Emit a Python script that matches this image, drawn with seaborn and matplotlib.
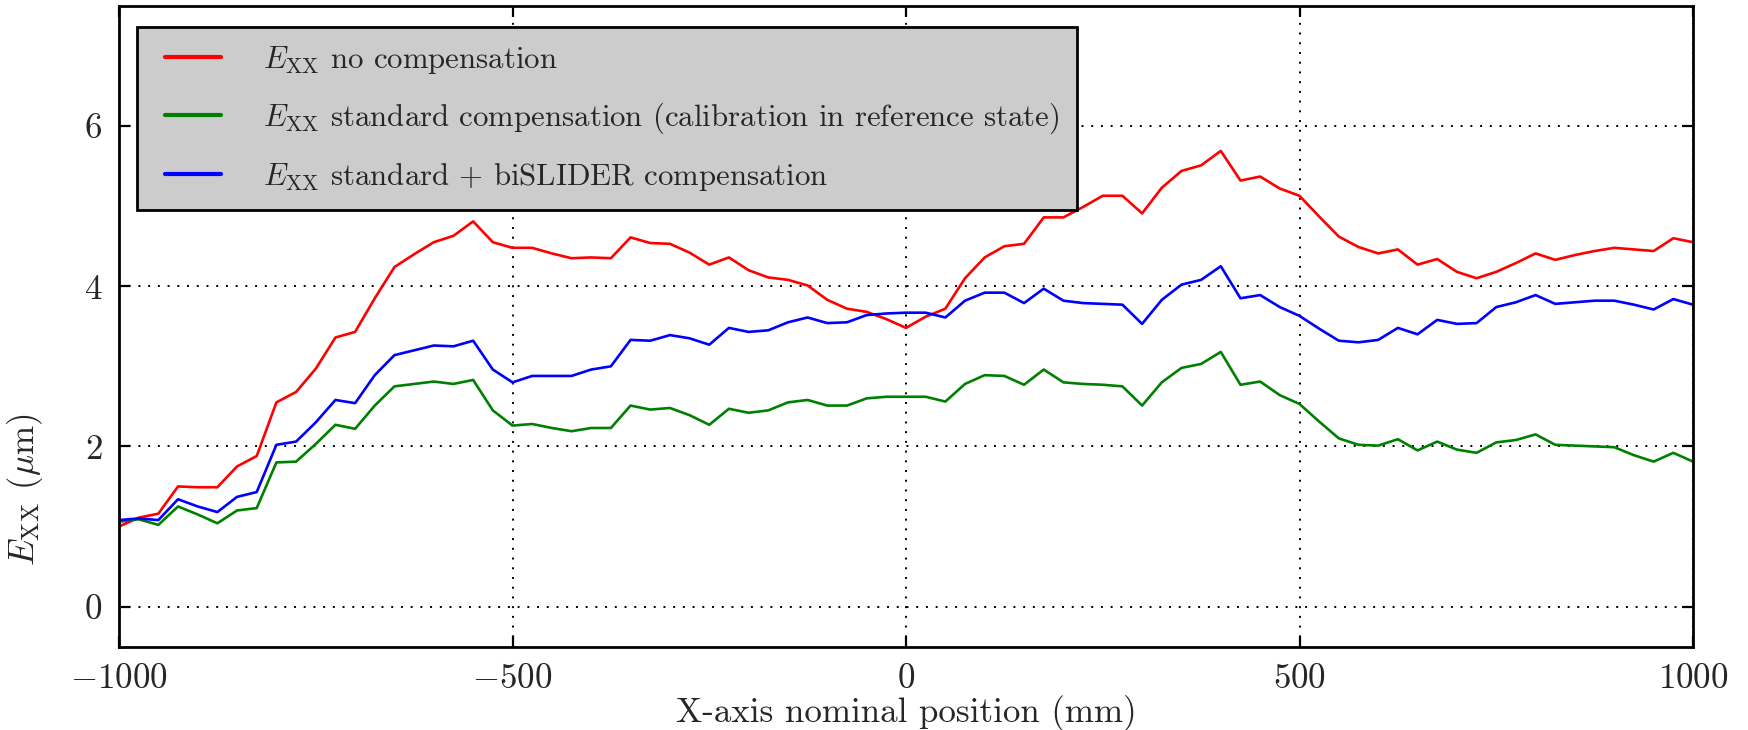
import numpy as np
import pandas as pd
import matplotlib
matplotlib.use("Agg")
import matplotlib.pyplot as plt
import seaborn as sns
from matplotlib.legend_handler import HandlerLine2D
from matplotlib.lines import Line2D

# ---- data ----
x_pos = np.arange(-1000, 1001, 25)

no_comp = [1.00, 1.11, 1.16, 1.50, 1.49, 1.49, 1.75, 1.88, 2.55, 2.68, 2.97, 3.36, 3.43, 3.85, 4.24, 4.40, 4.55, 4.63, 4.81, 4.55,
           4.48, 4.48, 4.41, 4.35, 4.36, 4.35, 4.61, 4.54, 4.53, 4.42, 4.27, 4.36, 4.20, 4.11, 4.08, 4.01, 3.83, 3.72, 3.68, 3.59,
           3.48, 3.62, 3.72, 4.10, 4.36, 4.50, 4.53, 4.86, 4.86, 4.99, 5.13, 5.13, 4.91, 5.23, 5.44, 5.51, 5.69, 5.32, 5.37, 5.22,
           5.13, 4.87, 4.62, 4.49, 4.41, 4.46, 4.27, 4.34, 4.18, 4.10, 4.18, 4.29, 4.41, 4.33, 4.39, 4.44, 4.48, 4.46, 4.44, 4.60, 4.55]

std_comp = [1.06, 1.09, 1.02, 1.25, 1.15, 1.04, 1.20, 1.23, 1.80, 1.81, 2.03, 2.27, 2.22, 2.51, 2.75, 2.78, 2.81, 2.78, 2.83, 2.45,
            2.26, 2.28, 2.23, 2.19, 2.23, 2.23, 2.51, 2.46, 2.48, 2.39, 2.27, 2.47, 2.42, 2.45, 2.55, 2.58, 2.51, 2.51, 2.60, 2.62,
            2.62, 2.62, 2.56, 2.78, 2.89, 2.88, 2.77, 2.96, 2.80, 2.78, 2.77, 2.75, 2.51, 2.80, 2.98, 3.03, 3.18, 2.77, 2.81, 2.64,
            2.53, 2.31, 2.10, 2.02, 2.01, 2.09, 1.95, 2.06, 1.96, 1.92, 2.05, 2.08, 2.15, 2.02, 2.01, 2.00, 1.99, 1.89, 1.81, 1.92, 1.81]

bislider_comp = [1.08, 1.10, 1.08, 1.34, 1.25, 1.18, 1.37, 1.43, 2.02, 2.06, 2.30, 2.58, 2.54, 2.89, 3.14, 3.20, 3.26, 3.25, 3.32, 2.96,
                 2.80, 2.88, 2.88, 2.88, 2.96, 3.00, 3.33, 3.32, 3.39, 3.35, 3.27, 3.48, 3.43, 3.45, 3.55, 3.61, 3.54, 3.55, 3.64, 3.66,
                 3.67, 3.67, 3.61, 3.82, 3.92, 3.92, 3.79, 3.97, 3.82, 3.79, 3.78, 3.77, 3.53, 3.83, 4.02, 4.08, 4.25, 3.85, 3.89, 3.74,
                 3.63, 3.47, 3.32, 3.30, 3.33, 3.48, 3.40, 3.58, 3.53, 3.54, 3.74, 3.80, 3.89, 3.78, 3.80, 3.82, 3.82, 3.77, 3.71, 3.84, 3.77]

labels = [r"$E_{\mathrm{XX}}$ no compensation",
          r"$E_{\mathrm{XX}}$ standard compensation (calibration in reference state)",
          r"$E_{\mathrm{XX}}$ standard + biSLIDER compensation"]
colors = ["#ff0000", "#008000", "#0000ff"]

x_ticks = [-1000, -500, 0, 500, 1000]
y_ticks = [0, 2, 4, 6]

# ---- style ----
sns.set_style("white")
plt.rcParams.update({
    "font.family": ["cmr10", "DejaVu Serif"],
    "mathtext.fontset": "cm",
    "axes.formatter.use_mathtext": True,
    "axes.unicode_minus": True,
    "xtick.direction": "in",
    "ytick.direction": "in",
    "xtick.top": True,
    "ytick.right": True,
    "xtick.bottom": True,
    "ytick.left": True,
    "axes.edgecolor": "black",
    "axes.linewidth": 1.0,
})

df = pd.concat([
    pd.DataFrame({"x": x_pos, "y": vals, "series": lab})
    for vals, lab in zip([no_comp, std_comp, bislider_comp], labels)
], ignore_index=True)

fig = plt.figure(figsize=(8.74, 3.65), dpi=200)
ax = fig.add_axes([119 / 1748, 1 - 646.6 / 730, (1693 - 119) / 1748, (646.6 - 6) / 730])

sns.lineplot(data=df, x="x", y="y", hue="series", hue_order=labels,
             palette=dict(zip(labels, colors)), linewidth=0.95, ax=ax, legend=True)

ax.set_xlim(-1000, 1000)
ax.set_ylim(-0.5, 7.5)
ax.set_xticks(x_ticks)
ax.set_yticks(y_ticks)
ax.tick_params(axis="both", which="major", labelsize=12.6, length=4, width=0.8, color="black", pad=6)
ax.grid(True, color="black", linestyle=(0, (1, 4)), linewidth=0.7)
for s in ax.spines.values():
    s.set_visible(True)
    s.set_color("black")

ax.set_xlabel("X-axis nominal position (mm)", fontsize=12.6, labelpad=0)
ax.set_ylabel(r"$E_{\mathrm{XX}}$ ($\mu$m)", fontsize=12.6)
ax.yaxis.set_label_coords(-0.047, 0.244)

handles, labs = ax.get_legend_handles_labels()
leg = ax.legend(handles, labs, loc="upper left", bbox_to_anchor=(0.0114, 0.967), borderaxespad=0,
                fontsize=11.1, frameon=True, fancybox=False, shadow=False,
                facecolor="#cccccc", edgecolor="black", framealpha=1.0,
                handlelength=2.18, handletextpad=1.36, labelspacing=0.8, borderpad=0.55,
                handler_map={Line2D: HandlerLine2D(xpad=0.36)})
leg.get_frame().set_linewidth(1.0)
for h in leg.get_lines():
    h.set_linewidth(1.5)

fig.savefig("out.png", dpi=200, facecolor="white")
